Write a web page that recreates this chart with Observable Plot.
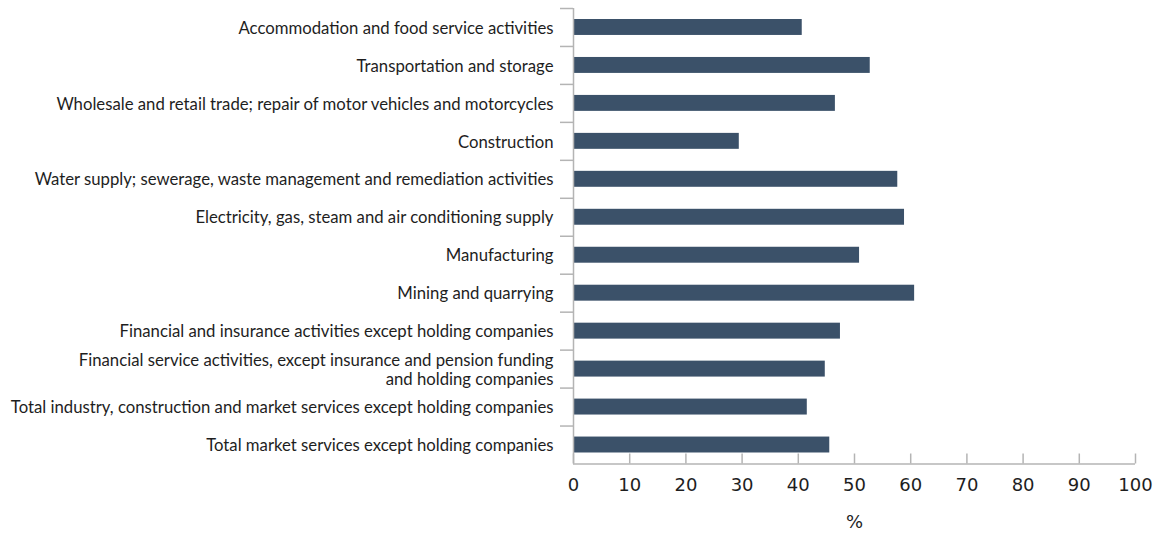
<!DOCTYPE html>
<html>
<head>
<meta charset="utf-8">
<script src="https://cdn.jsdelivr.net/npm/d3@7"></script>
<script src="https://cdn.jsdelivr.net/npm/@observablehq/plot@0.6"></script>
<style>
  html, body { margin: 0; padding: 0; background: #ffffff; overflow: hidden; }
  #chart svg { display: block; }
</style>
</head>
<body>
<div id="chart"></div>
<script>
// ---- data ----
const categories = [
  "Accommodation and food service activities",
  "Transportation and storage",
  "Wholesale and retail trade; repair of motor vehicles and motorcycles",
  "Construction",
  "Water supply; sewerage, waste management and remediation activities",
  "Electricity, gas, steam and air conditioning supply",
  "Manufacturing",
  "Mining and quarrying",
  "Financial and insurance activities except holding companies",
  "Financial service activities, except insurance and pension funding\nand holding companies",
  "Total industry, construction and market services except holding companies",
  "Total market services except holding companies"
];
const values = [40.7, 52.8, 46.6, 29.5, 57.7, 58.9, 50.9, 60.7, 47.5, 44.8, 41.6, 45.6];
const xTicks = [0, 10, 20, 30, 40, 50, 60, 70, 80, 90, 100];
const xTitle = "%";

// ---- layout ----
const W = 1161, H = 535;
const mTop = 8, mBottom = 71.5, mLeft = 573, mRight = 26;
const step = (H - mTop - mBottom) / categories.length;
const barColor = "#3b5169";
const lineColor = "#b4b4b4";
const textColor = "#1e1e1e";

// fit category label font so the longest single line spans ~543px
const catFont = "Lato";
const ctx = document.createElement("canvas").getContext("2d");
ctx.font = `100px ${catFont}`;
const longest = categories.flatMap(c => c.split("\n"))
  .reduce((a, b) => ctx.measureText(b).width > ctx.measureText(a).width ? b : a);
const catSize = Math.min(17, 100 * 543 / ctx.measureText(longest).width);

const data = categories.map((c, i) => ({category: c, value: values[i]}));

const chart = Plot.plot({
  width: W,
  height: H,
  marginTop: mTop,
  marginBottom: mBottom,
  marginLeft: mLeft,
  marginRight: mRight,
  style: {background: "#ffffff", color: textColor, fontFamily: "DejaVu Sans, sans-serif"},
  x: {domain: [0, 100]},
  y: {domain: categories, paddingInner: 0.58, paddingOuter: 0.29, round: false},
  marks: [
    Plot.barX(data, {x: "value", y: "category", fill: barColor}),
    // category separator ticks on the left
    Plot.axisY({anchor: "left", tickSize: 13, stroke: lineColor, strokeWidth: 1.5, fill: "none", dy: -step / 2, label: null}),
    // category labels
    Plot.axisY({anchor: "left", tickSize: 0, tickPadding: 20, fontSize: catSize, fontFamily: catFont, fill: textColor, lineHeight: 1.15, label: null, tickFormat: d => d}),
    // left axis line
    Plot.ruleX([0], {stroke: lineColor, strokeWidth: 1.5}),
    // bottom axis line
    Plot.ruleY([categories[categories.length - 1]], {stroke: lineColor, strokeWidth: 1.5, dy: step / 2}),
    // bottom ticks (pointing up)
    Plot.axisX({anchor: "bottom", ticks: xTicks, tickSize: 10, dy: -10, stroke: lineColor, strokeWidth: 1.5, fill: "none", label: null}),
    // bottom tick labels + axis title
    Plot.axisX({anchor: "bottom", ticks: xTicks, tickSize: 0, tickPadding: 14.5, fontSize: 18, fill: textColor,
      label: xTitle, labelAnchor: "center", labelArrow: "none", labelOffset: 64})
  ]
});
document.getElementById("chart").appendChild(chart);
</script>
</body>
</html>
